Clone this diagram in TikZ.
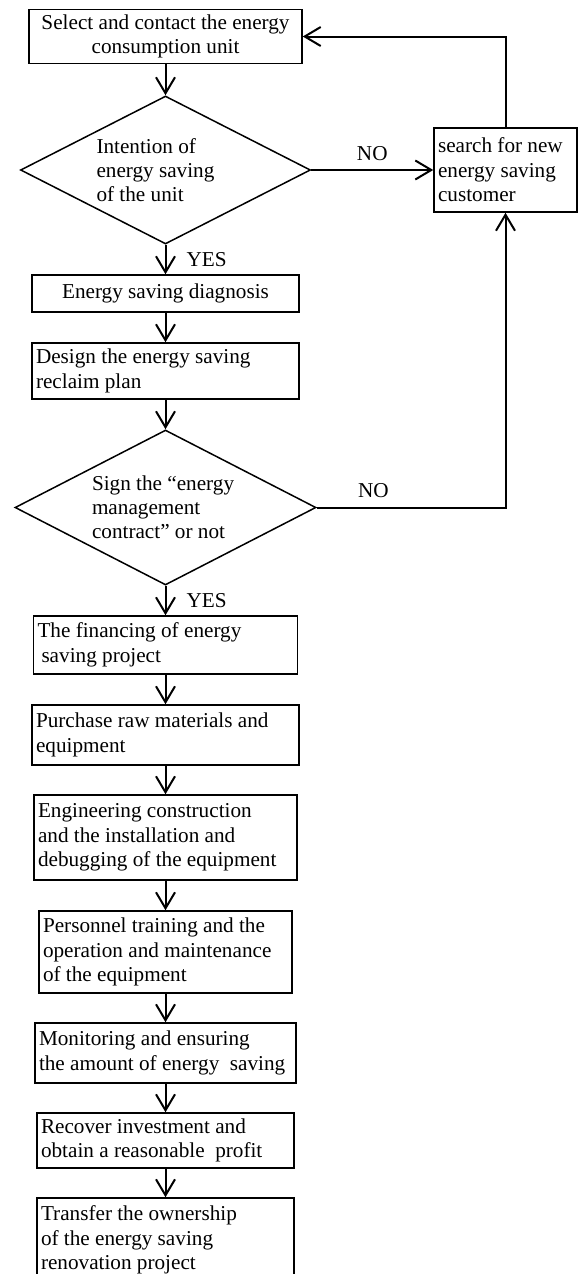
\documentclass[tikz,border=0pt]{standalone}
\usepackage{fontspec}
\setmainfont{Liberation Serif}
\usepackage{tikz}
\usetikzlibrary{arrows.meta}
\usetikzlibrary{shapes.geometric}
\tikzstyle{stepbox} = [draw, line width=1.5pt,
	align=flush left,
	inner xsep=4pt, inner ysep=0pt,
	font=\fontsize{21.2}{24.5}\selectfont]
\tikzstyle{decision} = [draw, diamond, line width=1.5pt,
	aspect=2, inner sep=0pt,
	align=flush left,
	font=\fontsize{21.2}{24}\selectfont]
\tikzstyle{answer} = [inner sep=0pt, font=\fontsize{21.2}{24}\selectfont]
\tikzstyle{arrow} = [-{Straight Barb[length=16pt, width=19pt]}, line width=2pt]
\newcommand{\drawstep}[5]{\node[stepbox,
	text width=#3,
	minimum height=#4
	] (#1) at #2 {#5}}

\begin{document}
\begin{tikzpicture}[x=1pt, y=-1pt]
			\useasboundingbox (0,0) rectangle (578,1274);
			\node (sel) [stepbox, align=center, minimum width=273pt, minimum height=54pt]
				at (165.5,36.5) {Select and contact the energy\\consumption unit};
			\node (dia1) [decision, minimum width=290pt, minimum height=148pt,
				text width=138pt] at (165.5,170)
				{Intention of\\energy saving\\of the unit};
			\drawstep{search}{(505.5,170)}{135pt}{84pt}{search for new\\energy saving\\customer};
			\node (diag) [stepbox, align=center, minimum width=267pt, minimum height=37pt]
				at (165.5,293.5) {Energy saving diagnosis};
			\drawstep{design}{(165.5,371)}{259pt}{56pt}{Design the energy saving\\reclaim plan};
			\node (dia2) [decision, minimum width=301pt, minimum height=155pt,
				text width=147pt] at (165.5,507.5)
				{Sign the “energy\\management\\contract” or not};
			\drawstep{fin}{(165.5,645)}{256pt}{58pt}{The financing of energy\\\hspace*{4pt}saving project};
			\drawstep{purch}{(165.5,735)}{259pt}{60pt}{Purchase raw materials and\\equipment};
			\drawstep{eng}{(165.5,837.5)}{255pt}{85pt}{Engineering construction\\and the installation and\\debugging of the equipment};
			\drawstep{pers}{(165.5,952)}{245pt}{82pt}{Personnel training and the\\operation and maintenance\\of the equipment};
			\drawstep{mon}{(165.5,1053)}{253pt}{60pt}{Monitoring and ensuring\\\mbox{the amount of energy~~saving}};
			\drawstep{rec}{(165.5,1140.5)}{249pt}{55pt}{Recover investment and\\\mbox{obtain a reasonable~~profit}};
			\drawstep{trans}{(165.5,1240)}{249pt}{84pt}{Transfer the ownership\\of the energy saving\\renovation project};
			
			\draw [arrow] (sel.south) -- (dia1.north);
			\draw [arrow] (dia1.south) -- (diag.north) node [answer, midway, right=20pt] {YES};
			\draw [arrow] (dia1.east) -- (search.west) node [answer, midway, above=8pt] {NO};
			\draw [arrow] (search.north) |- (sel.east);
			\draw [arrow] (diag.south) -- (design.north);
			\draw [arrow] (design.south) -- (dia2.north);
			\draw [arrow] (dia2.east) -| (search.south) node [answer, pos=0.15, above=9pt] {NO};
			\draw [arrow] (dia2.south) -- (fin.north) node [answer, midway, right=20pt] {YES};
			\draw [arrow] (fin.south) -- (purch.north);
			\draw [arrow] (purch.south) -- (eng.north);
			\draw [arrow] (eng.south) -- (pers.north);
			\draw [arrow] (pers.south) -- (mon.north);
			\draw [arrow] (mon.south) -- (rec.north);
			\draw [arrow] (rec.south) -- (trans.north);
		\end{tikzpicture}
\end{document}
